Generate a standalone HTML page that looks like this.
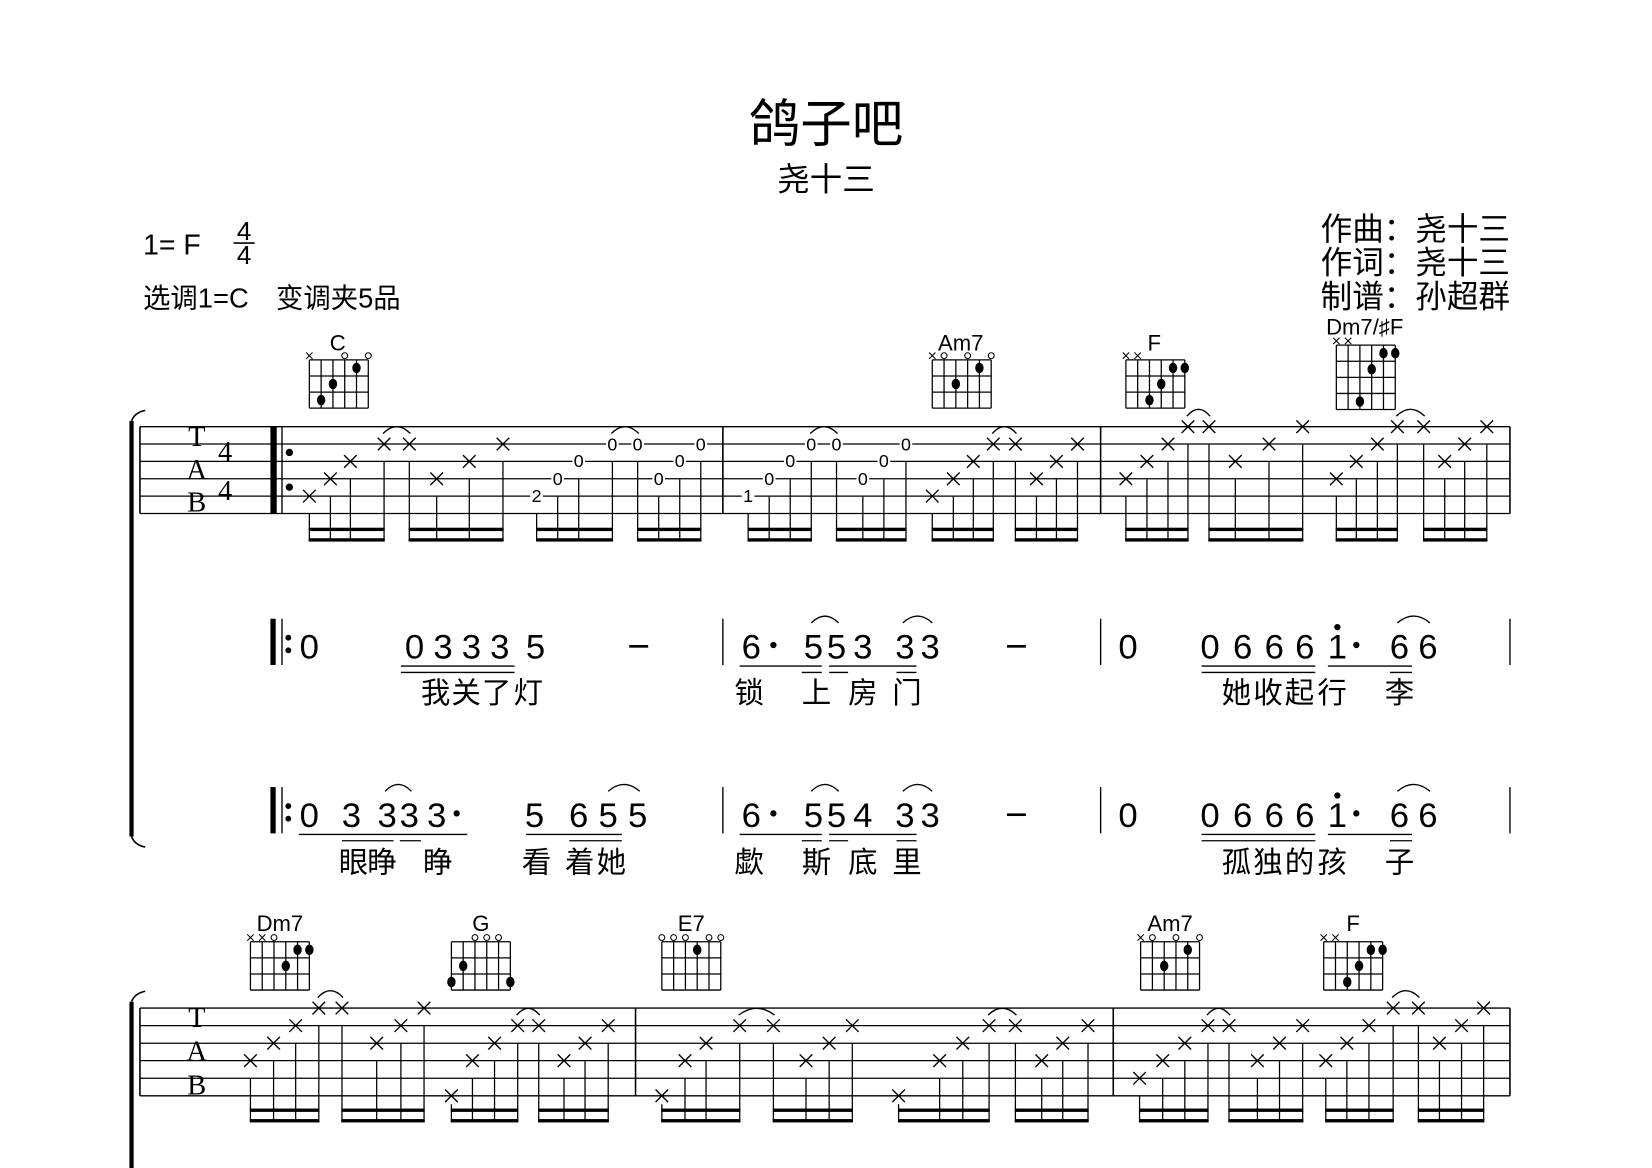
<!DOCTYPE html>
<html><head><meta charset="utf-8">
<style>
html,body{margin:0;padding:0;background:#fff;width:1652px;height:1168px;overflow:hidden}
svg{display:block}
.cj{font-family:"Liberation Sans","Noto Sans CJK SC",sans-serif;fill:#000}
.jp{font-family:"Liberation Sans Narrow","Liberation Sans",sans-serif;font-size:33px;text-anchor:middle;fill:#000}
.ly{font-family:"Liberation Sans","Noto Sans CJK SC",sans-serif;font-size:28px;text-anchor:middle;fill:#000}
.td{font-family:"Liberation Sans Narrow","Liberation Sans",sans-serif;font-size:17px;text-anchor:middle;fill:#000}
.ch{font-family:"Liberation Sans Narrow","Liberation Sans",sans-serif;font-size:21px;text-anchor:middle;fill:#000}
.tab{font-family:"Liberation Serif",serif;font-size:27px;text-anchor:middle;fill:#000}
</style></head><body>
<svg id="s" xmlns="http://www.w3.org/2000/svg" width="1652" height="1168" viewBox="0 0 1570 1110" preserveAspectRatio="none">
<g id="shapes" stroke="#000" fill="none"></g>
<g id="txt">
<text class="cj" x="785" y="135" font-size="49" text-anchor="middle">鸽子吧</text>
<text class="cj" x="785" y="181" font-size="31" text-anchor="middle">尧十三</text>
<text class="cj" x="136" y="242" font-size="27">1= F</text>
<text class="cj" x="232" y="228" font-size="25" text-anchor="middle">4</text>
<text class="cj" x="232" y="251" font-size="25" text-anchor="middle">4</text>
<text class="cj" x="136" y="292" font-size="26">选调1=C　变调夹5品</text>
<text class="cj" x="1435" y="228" font-size="30" text-anchor="end">作曲：尧十三</text>
<text class="cj" x="1435" y="260" font-size="30" text-anchor="end">作词：尧十三</text>
<text class="cj" x="1435" y="292" font-size="30" text-anchor="end">制谱：孙超群</text>

<text class="ch" x="321" y="333">C</text>
<text class="ch" x="913" y="333">Am7</text>
<text class="ch" x="1097" y="333">F</text>
<text class="ch" x="1297" y="318">Dm7/♯F</text>
<text class="ch" x="266" y="885">Dm7</text>
<text class="ch" x="457" y="885">G</text>
<text class="ch" x="657" y="885">E7</text>
<text class="ch" x="1112" y="885">Am7</text>
<text class="ch" x="1286" y="885">F</text>

<text class="tab" x="187" y="424">T</text>
<text class="tab" x="187" y="455">A</text>
<text class="tab" x="187" y="486">B</text>
<text class="tab" x="214" y="438">4</text>
<text class="tab" x="214" y="475">4</text>
<text class="tab" x="187" y="976">T</text>
<text class="tab" x="187" y="1008">A</text>
<text class="tab" x="187" y="1040">B</text>

<text class="td" x="510" y="477">2</text>
<text class="td" x="530" y="461">0</text>
<text class="td" x="550" y="444">0</text>
<text class="td" x="582" y="428">0</text>
<text class="td" x="606" y="428">0</text>
<text class="td" x="626" y="461">0</text>
<text class="td" x="646" y="444">0</text>
<text class="td" x="666" y="428">0</text>
<text class="td" x="711" y="477">1</text>
<text class="td" x="731" y="461">0</text>
<text class="td" x="751" y="444">0</text>
<text class="td" x="771" y="428">0</text>
<text class="td" x="795" y="428">0</text>
<text class="td" x="820" y="461">0</text>
<text class="td" x="840" y="444">0</text>
<text class="td" x="861" y="428">0</text>

<text class="jp" x="294" y="626">0</text>
<text class="jp" x="394" y="626">0</text>
<text class="jp" x="421" y="626">3</text>
<text class="jp" x="448" y="626">3</text>
<text class="jp" x="475" y="626">3</text>
<text class="jp" x="509" y="626">5</text>
<text class="jp" x="714" y="626">6</text>
<text class="jp" x="773" y="626">5</text>
<text class="jp" x="795" y="626">5</text>
<text class="jp" x="820" y="626">3</text>
<text class="jp" x="860" y="626">3</text>
<text class="jp" x="884" y="626">3</text>
<text class="jp" x="1072" y="626">0</text>
<text class="jp" x="1150" y="626">0</text>
<text class="jp" x="1181" y="626">6</text>
<text class="jp" x="1211" y="626">6</text>
<text class="jp" x="1240" y="626">6</text>
<text class="jp" x="1271" y="626">1</text>
<text class="jp" x="1330" y="626">6</text>
<text class="jp" x="1357" y="626">6</text>

<text class="ly" x="414" y="668">我</text>
<text class="ly" x="443" y="668">关</text>
<text class="ly" x="472" y="668">了</text>
<text class="ly" x="502" y="668">灯</text>
<text class="ly" x="712" y="668">锁</text>
<text class="ly" x="776" y="668">上</text>
<text class="ly" x="820" y="668">房</text>
<text class="ly" x="862" y="668">门</text>
<text class="ly" x="1175" y="668">她</text>
<text class="ly" x="1205" y="668">收</text>
<text class="ly" x="1235" y="668">起</text>
<text class="ly" x="1266" y="668">行</text>
<text class="ly" x="1330" y="668">李</text>

<text class="jp" x="294" y="786">0</text>
<text class="jp" x="334" y="786">3</text>
<text class="jp" x="368" y="786">3</text>
<text class="jp" x="389" y="786">3</text>
<text class="jp" x="415" y="786">3</text>
<text class="jp" x="508" y="786">5</text>
<text class="jp" x="550" y="786">6</text>
<text class="jp" x="578" y="786">5</text>
<text class="jp" x="606" y="786">5</text>
<text class="jp" x="714" y="786">6</text>
<text class="jp" x="773" y="786">5</text>
<text class="jp" x="795" y="786">5</text>
<text class="jp" x="820" y="786">4</text>
<text class="jp" x="860" y="786">3</text>
<text class="jp" x="884" y="786">3</text>
<text class="jp" x="1072" y="786">0</text>
<text class="jp" x="1150" y="786">0</text>
<text class="jp" x="1181" y="786">6</text>
<text class="jp" x="1211" y="786">6</text>
<text class="jp" x="1240" y="786">6</text>
<text class="jp" x="1271" y="786">1</text>
<text class="jp" x="1330" y="786">6</text>
<text class="jp" x="1357" y="786">6</text>

<text class="ly" x="336" y="829">眼</text>
<text class="ly" x="363" y="829">睁</text>
<text class="ly" x="416" y="829">睁</text>
<text class="ly" x="510" y="829">看</text>
<text class="ly" x="551" y="829">着</text>
<text class="ly" x="581" y="829">她</text>
<text class="ly" x="712" y="829">歔</text>
<text class="ly" x="776" y="829">斯</text>
<text class="ly" x="820" y="829">底</text>
<text class="ly" x="862" y="829">里</text>
<text class="ly" x="1175" y="829">孤</text>
<text class="ly" x="1205" y="829">独</text>
<text class="ly" x="1235" y="829">的</text>
<text class="ly" x="1266" y="829">孩</text>
<text class="ly" x="1330" y="829">子</text>
</g>
</svg>
<script>
const NS="http://www.w3.org/2000/svg",G=document.getElementById('shapes');
function el(t,a){const e=document.createElementNS(NS,t);for(const k in a)e.setAttribute(k,a[k]);G.appendChild(e);return e;}
function L(x1,y1,x2,y2,w){el('line',{x1,y1,x2,y2,'stroke-width':w||1.3});}
function R(x,y,w,h,f){el('rect',{x,y,width:w,height:h,fill:f||'#000',stroke:'none'});}
function C(cx,cy,r,fill){el('circle',{cx,cy,r,fill:fill?'#000':'#fff','stroke-width':1});}
function arc(x1,x2,y){const m=(x1+x2)/2;el('path',{d:`M${x1} ${y} Q${m} ${y-13} ${x2} ${y}`,'stroke-width':1.3});}

L(222,231,242,231,1.5);

function brace(y1,y2){R(123,y1,4,y2-y1);el('path',{d:`M125 ${y1} Q128 ${y1-8} 138 ${y1-10}`,'stroke-width':1.5});if(y2<1100)el('path',{d:`M125 ${y2} Q128 ${y2+8} 138 ${y2+10}`,'stroke-width':1.5});}
brace(400,795);brace(952,1112);

const S1=[405.5,422,438.5,455,471.5,488],S2=[958,974.7,991.4,1008,1024.7,1041.4];
function staff(S,bars){S.forEach(y=>L(133,y,1435,y,1.2));bars.forEach(x=>L(x,S[0],x,S[5],1.5));L(133,S[0],133,S[5],1.5);}
staff(S1,[687,1046,1435]);staff(S2,[604,1058,1435]);
R(257,S1[0],6,S1[5]-S1[0]);L(268,S1[0],268,S1[5],1.3);C(275,430,3,1);C(275,463,3,1);

function notes(S,list,b1,b2,ties){
 list.forEach((n,i)=>{const [x,s,d]=n,y=S[s-1];
  if(d){R(x-6,y-8,12,16,'#fff');}
  else{L(x-6,y-6,x+6,y+6,1.3);L(x-6,y+6,x+6,y-6,1.3);}
  const top=s==6?y+8:y+17;L(x,top,x,b2+1.5,1.2);
 });
 for(let g=0;g<list.length;g+=4){const a=list[g][0],b=list[g+3][0];R(a-0.6,b1-1.5,b-a+1.2,3.2);R(a-0.6,b2-1.5,b-a+1.2,3.2);}
 ties.forEach(t=>{const y=S[t[2]-1]-10;arc(t[0]-1,t[1]+1,y);});
}
notes(S1,[[294,5],[314,4],[333,3],[365,2],[389,2],[415,4],[446,3],[478,2],[510,5,1],[530,4,1],[550,3,1],[582,2,1],[606,2,1],[626,4,1],[646,3,1],[666,2,1],
[711,5,1],[731,4,1],[751,3,1],[771,2,1],[795,2,1],[820,4,1],[840,3,1],[861,2,1],[886,5],[906,4],[925,3],[944,2],[965,2],[985,4],[1004,3],[1024,2],
[1070,4],[1090,3],[1110,2],[1129,1],[1149,1],[1174,3],[1206,2],[1238,1],[1270,4],[1289,3],[1309,2],[1328,1],[1353,1],[1373,3],[1392,2],[1413,1]],503,513,
[[365,389,2],[582,606,2],[771,795,2],[944,965,2],[1129,1149,1],[1328,1353,1]]);
notes(S2,[[238,4],[260,3],[281,2],[303,1],[325,1],[358,3],[381,2],[403,1],[429,6],[449,4],[470,3],[492,2],[512,2],[536,4],[556,3],[578,2],
[629,6],[651,4],[671,3],[703,2],[735,2],[766,4],[788,3],[810,2],[854,6],[893,4],[915,3],[940,2],[965,2],[990,4],[1010,3],[1034,2],
[1083,5],[1105,4],[1126,3],[1148,2],[1168,2],[1195,4],[1216,3],[1238,2],[1260,4],[1280,3],[1301,2],[1324,1],[1348,1],[1368,3],[1389,2],[1410,1]],1055,1065,
[[303,325,1],[492,512,2],[703,735,2],[940,965,2],[1148,1168,2],[1324,1348,1]]);

function chord(x0,top,nf,marks,dots){const dx=11.2,dy=15.3;
 for(let i=0;i<6;i++)L(x0+i*dx,top,x0+i*dx,top+nf*dy,1.2);
 for(let j=0;j<=nf;j++)L(x0,top+j*dy,x0+5*dx,top+j*dy,1.2);
 for(const k in marks){const x=x0+k*dx,y=top-4;if(marks[k]=='x'){L(x-3,y-3,x+3,y+3,1);L(x-3,y+3,x+3,y-3,1);}else C(x,y,2.8,0);}
 dots.forEach(d=>{el('ellipse',{cx:x0+d[0]*dx,cy:top+(d[1]-0.5)*dy,rx:4,ry:5,fill:'#000',stroke:'none'});});
}
chord(294,342,3,{0:'x',3:'o',5:'o'},[[4,1],[2,2],[1,3]]);
chord(886,342,3,{0:'x',1:'o',3:'o',5:'o'},[[4,1],[2,2]]);
chord(1070,342,3,{0:'x',1:'x'},[[4,1],[5,1],[3,2],[2,3]]);
chord(1270,328,4,{0:'x',1:'x'},[[4,1],[5,1],[3,2],[2,4]]);
chord(238,895,3,{0:'x',1:'x',2:'o'},[[3,2],[4,1],[5,1]]);
chord(429,895,3,{2:'o',3:'o',4:'o'},[[1,2],[0,3],[5,3]]);
chord(629,895,3,{0:'o',1:'o',2:'o',4:'o',5:'o'},[[3,1]]);
chord(1084,895,3,{0:'x',1:'o',3:'o',5:'o'},[[4,1],[2,2]]);
chord(1258,895,3,{0:'x',1:'x'},[[4,1],[5,1],[3,2],[2,3]]);

function jrow(base,dash1){const top=base-38,bot=base+6;
 R(257,top,5,bot-top);L(268,top,268,bot,1.3);C(274,base-20,2.3,1);C(274,base-8,2.3,1);
 [687,1046,1435].forEach(x=>L(x,top,x,bot,1.3));
 if(dash1)R(598,base-13,18,2.5);
 R(957,base-13,18,2.5);
 C(735,base-13,2.5,1);C(1289,base-13,2.5,1);C(1271,base-30,2.5,1);
}
jrow(626,true);jrow(786,false);
C(434,773,2.5,1);
function ul(x1,x2,y){L(x1,y,x2,y,1.3);}
function m23(u1,u2){ul(703,781,u1);ul(762,781,u2);ul(788,871,u1);ul(788,806,u2);ul(852,871,u2);
 ul(1142,1250,u1);ul(1142,1250,u2);ul(1262,1342,u1);ul(1321,1342,u2);}
ul(381,489,633);ul(381,489,639);m23(633,639);
ul(284,444,793);ul(325,374,799);ul(380,400,799);ul(500,591,793);ul(541,591,799);m23(793,799);
[[773,795],[860,884],[1330,1357]].forEach(p=>{arc(p[0]-2,p[1]+2,592);arc(p[0]-2,p[1]+2,752);});
arc(366,391,752);arc(578,608,752);
</script>
</body></html>
